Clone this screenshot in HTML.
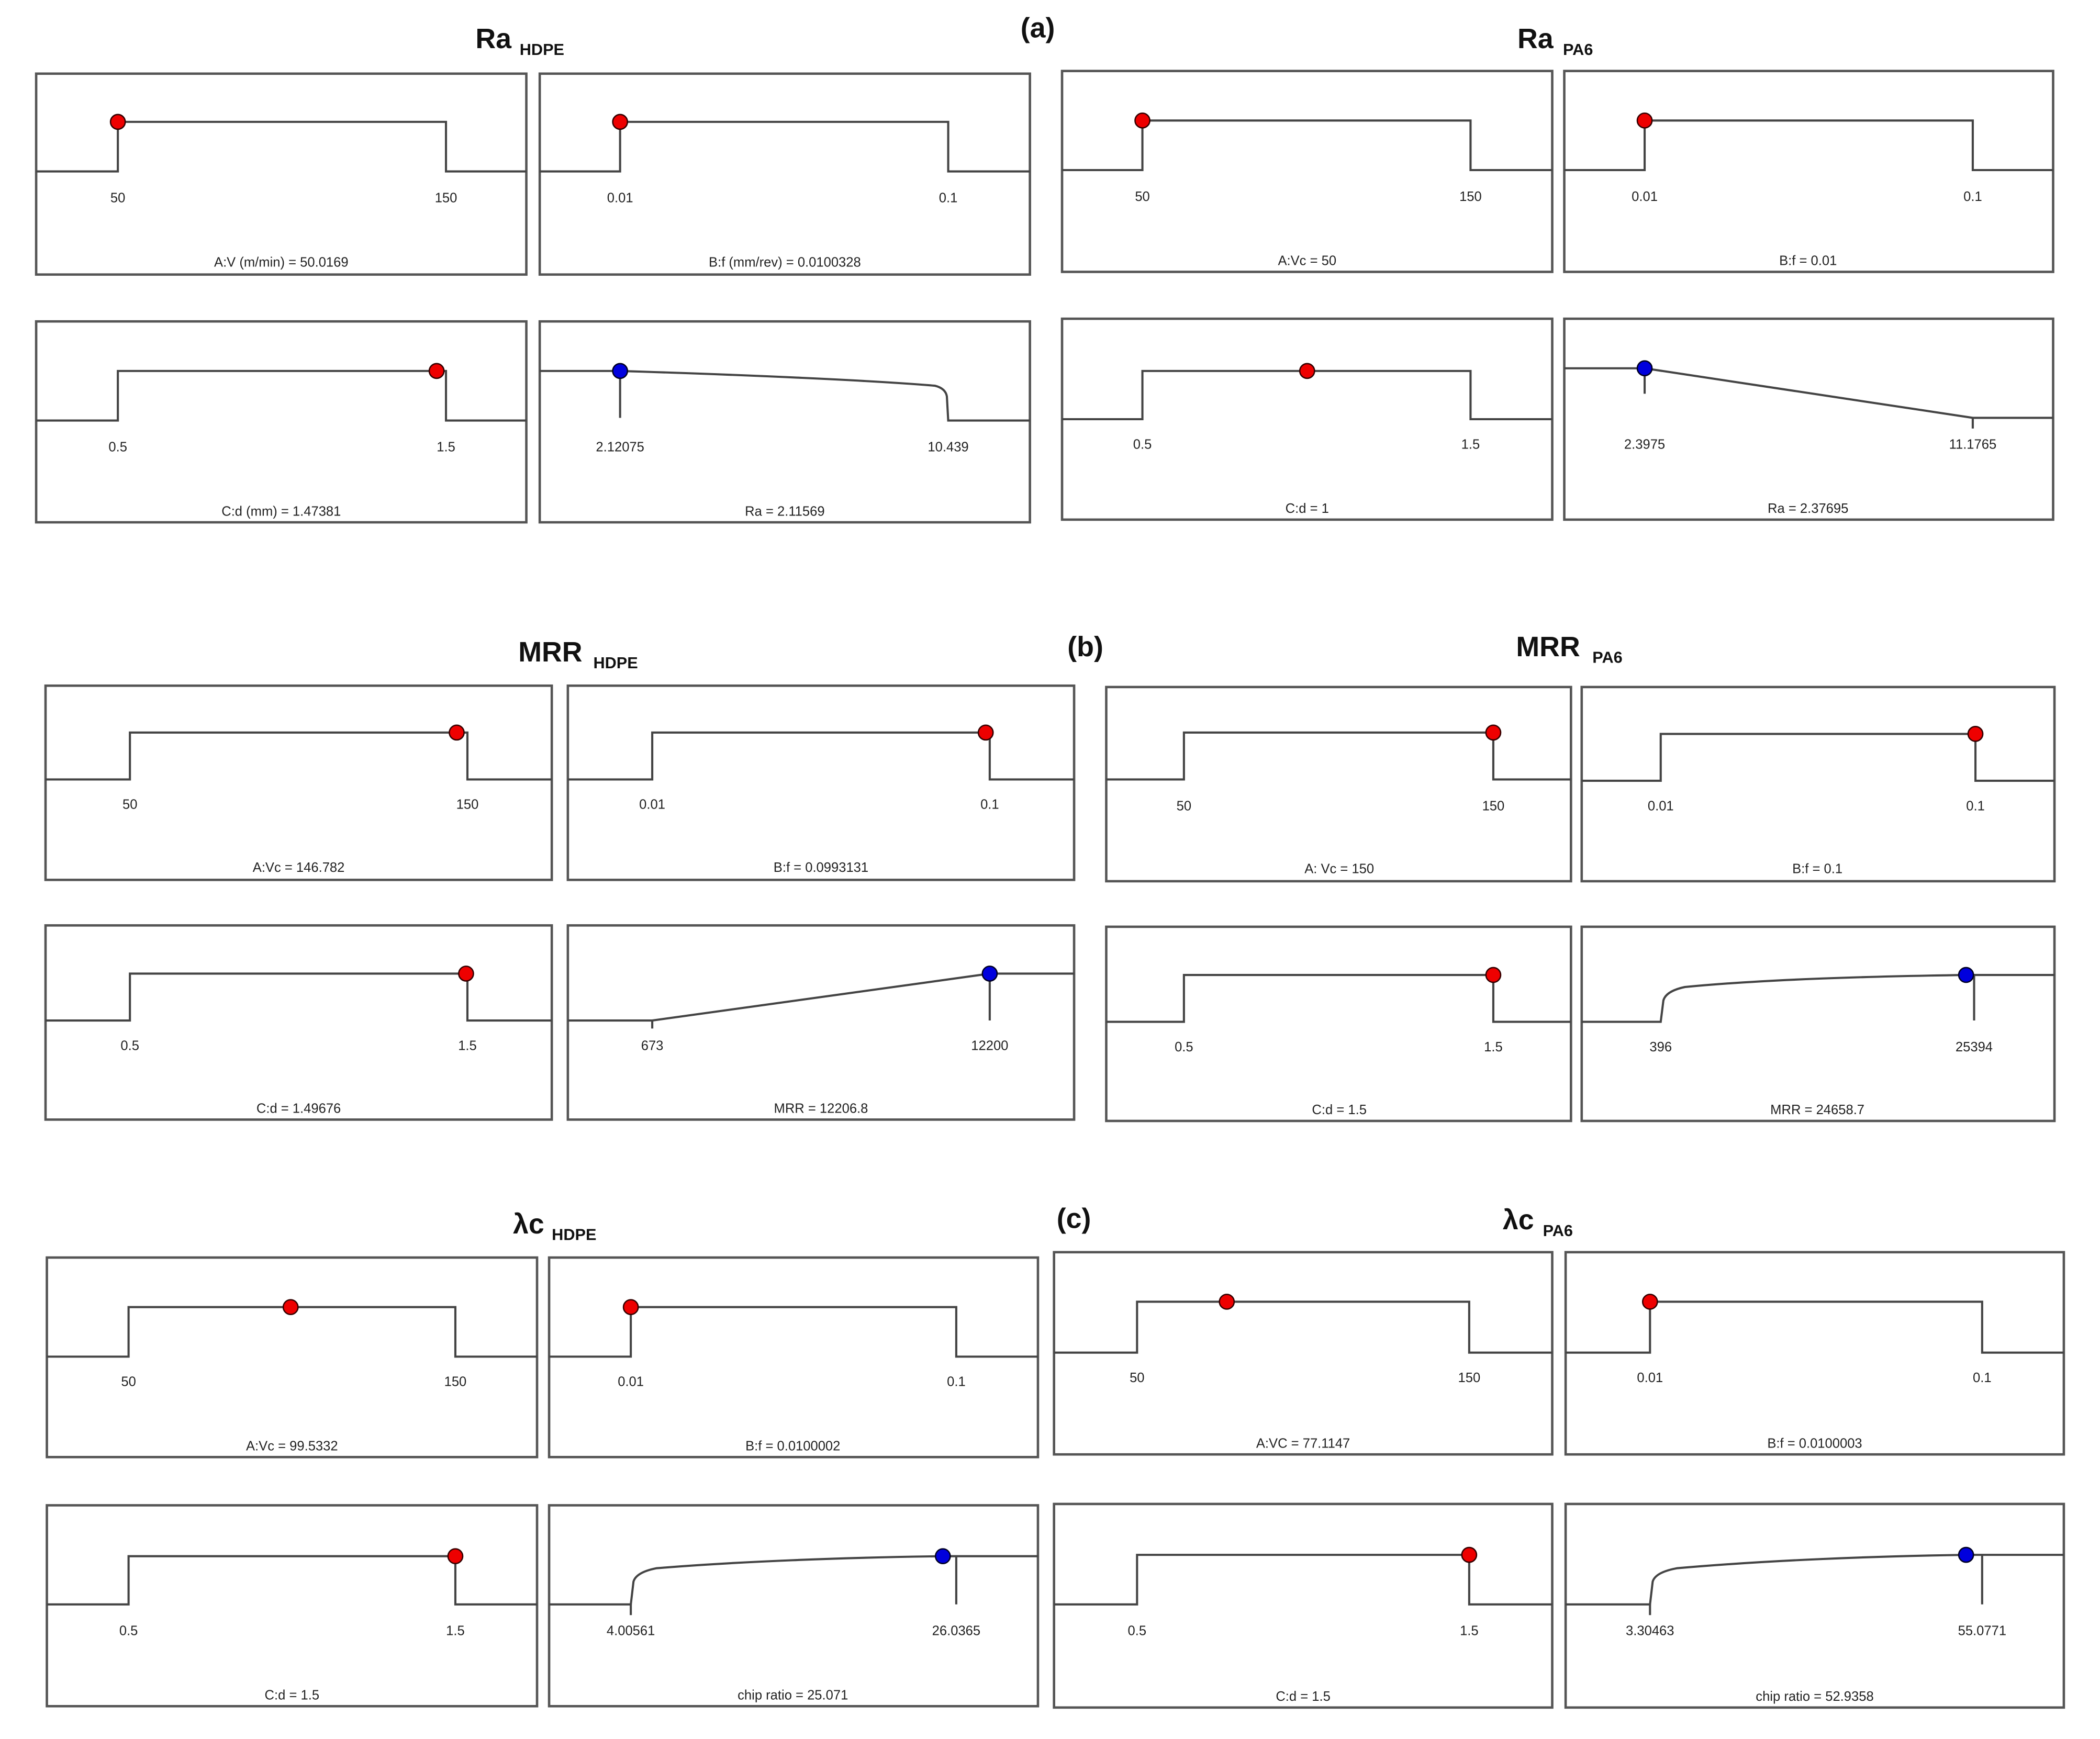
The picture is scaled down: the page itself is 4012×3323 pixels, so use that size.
<!DOCTYPE html>
<html><head><meta charset="utf-8"><style>
html,body{margin:0;padding:0;background:#fff;}
svg{display:block;}
.b{fill:none;stroke:#555;stroke-width:1.8;}
.l{fill:none;stroke:#444;stroke-width:1.6;}
.t{font-family:"Liberation Sans Narrow","Liberation Sans",sans-serif;font-size:10px;fill:#222;text-anchor:middle;}
.h{font-family:"Liberation Sans",sans-serif;font-weight:bold;font-size:21px;fill:#111;}
.s{font-family:"Liberation Sans",sans-serif;font-weight:bold;font-size:12px;fill:#111;}
.r{fill:#e00;stroke:#300;stroke-width:1;}
.u{fill:#00d;stroke:#002;stroke-width:1;}
</style></head><body>
<svg width="4012" height="3323" viewBox="0 0 1568 1298.5" preserveAspectRatio="none" xmlns="http://www.w3.org/2000/svg">
<rect width="1568" height="1298.5" fill="#fff"/>
<!-- Titles -->
<text class="h" x="355" y="36">Ra</text><text class="s" x="388" y="41">HDPE</text>
<text class="h" x="762" y="28">(a)</text>
<text class="h" x="1133" y="36">Ra</text><text class="s" x="1167" y="41">PA6</text>
<text class="h" x="387" y="494">MRR</text><text class="s" x="443" y="499">HDPE</text>
<text class="h" x="797" y="490">(b)</text>
<text class="h" x="1132" y="490">MRR</text><text class="s" x="1189" y="495">PA6</text>
<text class="h" x="383" y="921">λc</text><text class="s" x="412" y="926">HDPE</text>
<text class="h" x="789" y="917">(c)</text>
<text class="h" x="1122" y="918">λc</text><text class="s" x="1152" y="923">PA6</text>

<!-- (a) Ra HDPE -->
<rect class="b" x="27" y="55" width="366" height="150"/>
<path class="l" d="M27 128H88V91H333V128H393"/>
<circle class="r" cx="88" cy="91" r="5.5"/>
<text class="t" x="88" y="151">50</text><text class="t" x="333" y="151">150</text>
<text class="t" x="210" y="199">A:V (m/min) = 50.0169</text>

<rect class="b" x="403" y="55" width="366" height="150"/>
<path class="l" d="M403 128H463V91H708V128H769"/>
<circle class="r" cx="463" cy="91" r="5.5"/>
<text class="t" x="463" y="151">0.01</text><text class="t" x="708" y="151">0.1</text>
<text class="t" x="586" y="199">B:f (mm/rev) = 0.0100328</text>

<rect class="b" x="27" y="240" width="366" height="150"/>
<path class="l" d="M27 314H88V277H333V314H393"/>
<circle class="r" cx="326" cy="277" r="5.5"/>
<text class="t" x="88" y="337">0.5</text><text class="t" x="333" y="337">1.5</text>
<text class="t" x="210" y="385">C:d (mm) = 1.47381</text>

<rect class="b" x="403" y="240" width="366" height="150"/>
<path class="l" d="M403 277H463C560 280 650 284 698 288Q706 290 707 296L708 314H769"/>
<path class="l" d="M463 277V312"/>
<circle class="u" cx="463" cy="277" r="5.5"/>
<text class="t" x="463" y="337">2.12075</text><text class="t" x="708" y="337">10.439</text>
<text class="t" x="586" y="385">Ra = 2.11569</text>

<!-- (a) Ra PA6 -->
<rect class="b" x="793" y="53" width="366" height="150"/>
<path class="l" d="M793 127H853V90H1098V127H1159"/>
<circle class="r" cx="853" cy="90" r="5.5"/>
<text class="t" x="853" y="150">50</text><text class="t" x="1098" y="150">150</text>
<text class="t" x="976" y="198">A:Vc  = 50</text>

<rect class="b" x="1168" y="53" width="365" height="150"/>
<path class="l" d="M1168 127H1228V90H1473V127H1533"/>
<circle class="r" cx="1228" cy="90" r="5.5"/>
<text class="t" x="1228" y="150">0.01</text><text class="t" x="1473" y="150">0.1</text>
<text class="t" x="1350" y="198">B:f  = 0.01</text>

<rect class="b" x="793" y="238" width="366" height="150"/>
<path class="l" d="M793 313H853V277H1098V313H1159"/>
<circle class="r" cx="976" cy="277" r="5.5"/>
<text class="t" x="853" y="335">0.5</text><text class="t" x="1098" y="335">1.5</text>
<text class="t" x="976" y="383">C:d  = 1</text>

<rect class="b" x="1168" y="238" width="365" height="150"/>
<path class="l" d="M1168 275H1228L1473 312H1533"/>
<path class="l" d="M1228 275V294M1473 312V320"/>
<circle class="u" cx="1228" cy="275" r="5.5"/>
<text class="t" x="1228" y="335">2.3975</text><text class="t" x="1473" y="335">11.1765</text>
<text class="t" x="1350" y="383">Ra = 2.37695</text>

<!-- (b) MRR HDPE -->
<rect class="b" x="34" y="512" width="378" height="145"/>
<path class="l" d="M34 582H97V547H349V582H412"/>
<circle class="r" cx="341" cy="547" r="5.5"/>
<text class="t" x="97" y="604">50</text><text class="t" x="349" y="604">150</text>
<text class="t" x="223" y="651">A:Vc  = 146.782</text>

<rect class="b" x="424" y="512" width="378" height="145"/>
<path class="l" d="M424 582H487V547H739V582H802"/>
<circle class="r" cx="736" cy="547" r="5.5"/>
<text class="t" x="487" y="604">0.01</text><text class="t" x="739" y="604">0.1</text>
<text class="t" x="613" y="651">B:f  = 0.0993131</text>

<rect class="b" x="34" y="691" width="378" height="145"/>
<path class="l" d="M34 762H97V727H349V762H412"/>
<circle class="r" cx="348" cy="727" r="5.5"/>
<text class="t" x="97" y="784">0.5</text><text class="t" x="349" y="784">1.5</text>
<text class="t" x="223" y="831">C:d = 1.49676</text>

<rect class="b" x="424" y="691" width="378" height="145"/>
<path class="l" d="M424 762H487L739 727H802"/>
<path class="l" d="M739 727V762M487 762V768"/>
<circle class="u" cx="739" cy="727" r="5.5"/>
<text class="t" x="487" y="784">673</text><text class="t" x="739" y="784">12200</text>
<text class="t" x="613" y="831">MRR = 12206.8</text>

<!-- (b) MRR PA6 -->
<rect class="b" x="826" y="513" width="347" height="145"/>
<path class="l" d="M826 582H884V547H1115V582H1173"/>
<circle class="r" cx="1115" cy="547" r="5.5"/>
<text class="t" x="884" y="605">50</text><text class="t" x="1115" y="605">150</text>
<text class="t" x="1000" y="652">A: Vc = 150</text>

<rect class="b" x="1181" y="513" width="353" height="145"/>
<path class="l" d="M1181 583H1240V548H1475V583H1534"/>
<circle class="r" cx="1475" cy="548" r="5.5"/>
<text class="t" x="1240" y="605">0.01</text><text class="t" x="1475" y="605">0.1</text>
<text class="t" x="1357" y="652">B:f  = 0.1</text>

<rect class="b" x="826" y="692" width="347" height="145"/>
<path class="l" d="M826 763H884V728H1115V763H1173"/>
<circle class="r" cx="1115" cy="728" r="5.5"/>
<text class="t" x="884" y="785">0.5</text><text class="t" x="1115" y="785">1.5</text>
<text class="t" x="1000" y="832">C:d = 1.5</text>

<rect class="b" x="1181" y="692" width="353" height="145"/>
<path class="l" d="M1181 763H1240L1242 747Q1244 740 1258 737C1320 731 1400 729 1468 728H1534"/>
<path class="l" d="M1474 728V762"/>
<circle class="u" cx="1468" cy="728" r="5.5"/>
<text class="t" x="1240" y="785">396</text><text class="t" x="1474" y="785">25394</text>
<text class="t" x="1357" y="832">MRR = 24658.7</text>

<!-- (c) λc HDPE -->
<rect class="b" x="35" y="939" width="366" height="149"/>
<path class="l" d="M35 1013H96V976H340V1013H401"/>
<circle class="r" cx="217" cy="976" r="5.5"/>
<text class="t" x="96" y="1035">50</text><text class="t" x="340" y="1035">150</text>
<text class="t" x="218" y="1083">A:Vc  = 99.5332</text>

<rect class="b" x="410" y="939" width="365" height="149"/>
<path class="l" d="M410 1013H471V976H714V1013H775"/>
<circle class="r" cx="471" cy="976" r="5.5"/>
<text class="t" x="471" y="1035">0.01</text><text class="t" x="714" y="1035">0.1</text>
<text class="t" x="592" y="1083">B:f  = 0.0100002</text>

<rect class="b" x="35" y="1124" width="366" height="150"/>
<path class="l" d="M35 1198H96V1162H340V1198H401"/>
<circle class="r" cx="340" cy="1162" r="5.5"/>
<text class="t" x="96" y="1221">0.5</text><text class="t" x="340" y="1221">1.5</text>
<text class="t" x="218" y="1269">C:d  = 1.5</text>

<rect class="b" x="410" y="1124" width="365" height="150"/>
<path class="l" d="M410 1198H471L473 1181Q475 1174 490 1171C550 1166 630 1163 704 1162H775"/>
<path class="l" d="M714 1162V1198M471 1198V1206"/>
<circle class="u" cx="704" cy="1162" r="5.5"/>
<text class="t" x="471" y="1221">4.00561</text><text class="t" x="714" y="1221">26.0365</text>
<text class="t" x="592" y="1269">chip ratio = 25.071</text>

<!-- (c) λc PA6 -->
<rect class="b" x="787" y="935" width="372" height="151"/>
<path class="l" d="M787 1010H849V972H1097V1010H1159"/>
<circle class="r" cx="916" cy="972" r="5.5"/>
<text class="t" x="849" y="1032">50</text><text class="t" x="1097" y="1032">150</text>
<text class="t" x="973" y="1081">A:VC = 77.1147</text>

<rect class="b" x="1169" y="935" width="372" height="151"/>
<path class="l" d="M1169 1010H1232V972H1480V1010H1541"/>
<circle class="r" cx="1232" cy="972" r="5.5"/>
<text class="t" x="1232" y="1032">0.01</text><text class="t" x="1480" y="1032">0.1</text>
<text class="t" x="1355" y="1081">B:f  = 0.0100003</text>

<rect class="b" x="787" y="1123" width="372" height="152"/>
<path class="l" d="M787 1198H849V1161H1097V1198H1159"/>
<circle class="r" cx="1097" cy="1161" r="5.5"/>
<text class="t" x="849" y="1221">0.5</text><text class="t" x="1097" y="1221">1.5</text>
<text class="t" x="973" y="1270">C:d  = 1.5</text>

<rect class="b" x="1169" y="1123" width="372" height="152"/>
<path class="l" d="M1169 1198H1232L1234 1181Q1236 1174 1252 1171C1320 1165 1400 1162 1468 1161H1541"/>
<path class="l" d="M1480 1161V1198M1232 1198V1206"/>
<circle class="u" cx="1468" cy="1161" r="5.5"/>
<text class="t" x="1232" y="1221">3.30463</text><text class="t" x="1480" y="1221">55.0771</text>
<text class="t" x="1355" y="1270">chip ratio = 52.9358</text>
</svg>
</body></html>
